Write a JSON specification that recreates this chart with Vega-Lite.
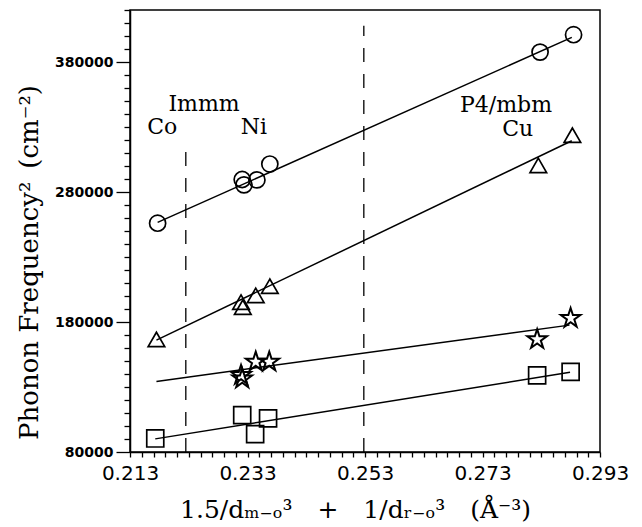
{
  "$schema": "https://vega.github.io/schema/vega-lite/v6.json",
  "autosize": "none",
  "padding": {"left": 130, "top": 10, "right": 42, "bottom": 75},
  "width": 470,
  "height": 442,
  "background": "white",
  "config": {
    "view": {"stroke": "black", "strokeWidth": 1.5},
    "axis": {"domainColor": "black", "domainWidth": 1.5, "tickColor": "black", "tickWidth": 1.3, "labelColor": "black", "titleColor": "black", "grid": false, "labelOverlap": false}
  },
  "datasets": {
    "points": [
      {"x": 0.2177, "y": 256000, "series": "circle"},
      {"x": 0.2321, "y": 289600, "series": "circle"},
      {"x": 0.2324, "y": 285500, "series": "circle"},
      {"x": 0.2346, "y": 289300, "series": "circle"},
      {"x": 0.2368, "y": 301500, "series": "circle"},
      {"x": 0.2828, "y": 387600, "series": "circle"},
      {"x": 0.2885, "y": 401000, "series": "circle"},
      {"x": 0.2175, "y": 166600, "series": "triangle"},
      {"x": 0.2319, "y": 195300, "series": "triangle"},
      {"x": 0.2322, "y": 191400, "series": "triangle"},
      {"x": 0.2344, "y": 200500, "series": "triangle"},
      {"x": 0.2368, "y": 207500, "series": "triangle"},
      {"x": 0.2825, "y": 300500, "series": "triangle"},
      {"x": 0.2883, "y": 323700, "series": "triangle"},
      {"x": 0.2319, "y": 139000, "series": "star"},
      {"x": 0.2321, "y": 136300, "series": "star"},
      {"x": 0.2344, "y": 149300, "series": "star"},
      {"x": 0.2367, "y": 149300, "series": "star"},
      {"x": 0.2823, "y": 166600, "series": "star"},
      {"x": 0.2880, "y": 182900, "series": "star"},
      {"x": 0.2173, "y": 90400, "series": "square"},
      {"x": 0.2321, "y": 108400, "series": "square"},
      {"x": 0.2343, "y": 93800, "series": "square"},
      {"x": 0.2365, "y": 105900, "series": "square"},
      {"x": 0.2823, "y": 139000, "series": "square"},
      {"x": 0.2880, "y": 141600, "series": "square"}
    ],
    "fits": [
      {"x": 0.2177, "y": 256600, "series": "circle"},
      {"x": 0.2882, "y": 398900, "series": "circle"},
      {"x": 0.2175, "y": 166100, "series": "triangle"},
      {"x": 0.2882, "y": 319400, "series": "triangle"},
      {"x": 0.2175, "y": 134300, "series": "star"},
      {"x": 0.2878, "y": 177600, "series": "star"},
      {"x": 0.2173, "y": 90100, "series": "square"},
      {"x": 0.2879, "y": 141300, "series": "square"}
    ],
    "dashes": [
      {"x": 0.2225, "y": 80000, "y2": 317100},
      {"x": 0.2528, "y": 80000, "y2": 407900}
    ],
    "labels": [
      {"x": 0.2256, "y": 342500, "text": "Immm"},
      {"x": 0.2185, "y": 324800, "text": "Co"},
      {"x": 0.2341, "y": 324800, "text": "Ni"},
      {"x": 0.2770, "y": 341700, "text": "P4/mbm"},
      {"x": 0.2790, "y": 323300, "text": "Cu"}
    ]
  },
  "encoding": {
    "x": {
      "field": "x", "type": "quantitative",
      "scale": {"domain": [0.213, 0.293], "nice": false, "zero": false},
      "axis": {
        "title": "1.5/dₘ₋ₒ³\u2002\u2002+\u2002\u20021/dᵣ₋ₒ³\u2002\u2002(Å⁻³)",
        "titleFont": "DejaVu Serif", "titleFontSize": 25, "titleFontWeight": "normal",
        "titleX": 225, "titleY": 65, "titleBaseline": "alphabetic", "titleAlign": "center",
        "values": [0.213,0.215,0.217,0.219,0.221,0.223,0.225,0.227,0.229,0.231,0.233,0.235,0.237,0.239,0.241,0.243,0.245,0.247,0.249,0.251,0.253,0.255,0.257,0.259,0.261,0.263,0.265,0.267,0.269,0.271,0.273,0.275,0.277,0.279,0.281,0.283,0.285,0.287,0.289,0.291,0.293],
        "labelExpr": "indexof(['0.213','0.233','0.253','0.273','0.293'], format(datum.value, '.3f')) >= 0 ? format(datum.value, '.3f') : ''",
        "labelFont": "DejaVu Sans", "labelFontSize": 20, "labelPadding": 6, "tickSize": 5, "labelFlush": false
      }
    },
    "y": {
      "field": "y", "type": "quantitative",
      "scale": {"domain": [80000, 420000], "nice": false, "zero": false},
      "axis": {
        "title": "Phonon Frequency²\u2002(cm⁻²)",
        "titleFont": "DejaVu Serif", "titleFontSize": 26, "titleFontWeight": "normal",
        "titleX": -93, "titleY": 252, "titleBaseline": "alphabetic", "titleAlign": "center", "titleAngle": -90,
        "values": [80000,90000,100000,110000,120000,130000,140000,150000,160000,170000,180000,190000,200000,210000,220000,230000,240000,250000,260000,270000,280000,290000,300000,310000,320000,330000,340000,350000,360000,370000,380000,390000,400000,410000,420000],
        "labelExpr": "(datum.value - 80000) % 100000 === 0 && datum.value < 400000 ? format(datum.value, 'd') : ''",
        "labelFont": "DejaVu Sans", "labelFontSize": 14, "labelFontWeight": "bold", "labelPadding": 3,
        "tickSize": {"condition": {"test": "(datum.value - 80000) % 100000 === 0", "value": 14}, "value": 6}
      }
    }
  },
  "layer": [
    {
      "data": {"name": "dashes"},
      "mark": {"type": "rule", "color": "black", "strokeWidth": 1.3, "strokeDash": [14, 12]},
      "encoding": {"y2": {"field": "y2"}}
    },
    {
      "data": {"name": "fits"},
      "mark": {"type": "line", "color": "black", "strokeWidth": 1.5},
      "encoding": {"detail": {"field": "series"}}
    },
    {
      "data": {"name": "points"},
      "transform": [{"filter": "datum.series !== 'star'"}],
      "mark": {"type": "point", "filled": false, "color": "black", "strokeWidth": 1.7, "opacity": 1},
      "encoding": {
        "shape": {"field": "series", "type": "nominal", "legend": null,
          "scale": {"domain": ["circle", "triangle", "square"], "range": ["circle", "triangle-up", "square"]}},
        "size": {"field": "series", "type": "nominal", "legend": null,
          "scale": {"domain": ["circle", "triangle", "square"], "range": [260, 290, 240]}}
      }
    },
    {
      "data": {"name": "points"},
      "transform": [{"filter": "datum.series === 'star'"}],
      "mark": {"type": "point", "filled": false, "color": "black", "strokeWidth": 2, "opacity": 1, "size": 270,
        "shape": "M0,-1.25L0.28,-0.39L1.19,-0.39L0.45,0.15L0.73,1.01L0,0.48L-0.73,1.01L-0.45,0.15L-1.19,-0.39L-0.28,-0.39Z"},
      "encoding": {}
    },
    {
      "data": {"name": "labels"},
      "mark": {"type": "text", "font": "DejaVu Serif", "fontSize": 22, "color": "black", "align": "center", "baseline": "alphabetic"},
      "encoding": {"text": {"field": "text"}}
    }
  ]
}
